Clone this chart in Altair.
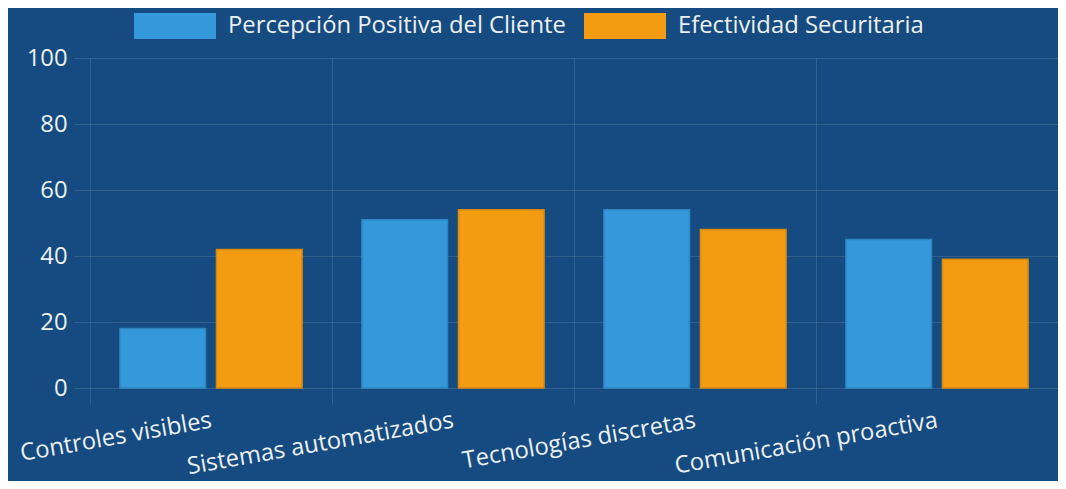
import altair as alt
import pandas as pd

categories = [
    "Controles visibles",
    "Sistemas automatizados",
    "Tecnologías discretas",
    "Comunicación proactiva",
]
series_names = ["Percepción Positiva del Cliente", "Efectividad Securitaria"]
percepcion = [18, 51, 54, 45]
efectividad = [42, 54, 48, 39]
y_ticks = [0, 20, 40, 60, 80, 100]

rows = []
for i, c in enumerate(categories):
    rows.append({"categoria": c, "serie": series_names[0], "valor": percepcion[i]})
    rows.append({"categoria": c, "serie": series_names[1], "valor": efectividad[i]})
df = pd.DataFrame(rows)

BG = "#154b80"
TEXT = "#ecf0f1"
GRID = "rgba(255,255,255,0.12)"
FS = 23.8

chart = (
    alt.Chart(df)
    .mark_bar(strokeWidth=1.5)
    .encode(
        x=alt.X(
            "categoria:N",
            sort=categories,
            title=None,
            scale=alt.Scale(paddingInner=0, paddingOuter=0),
            axis=alt.Axis(
                tickBand="extent",
                labelAngle=-10,
                labelAlign="right",
                labelBaseline="middle",
                labelPadding=16,
                tickSize=16,
                labelLimit=500,
            ),
        ),
        xOffset=alt.XOffset(
            "serie:N",
            sort=series_names,
            scale=alt.Scale(paddingInner=0.113, paddingOuter=0.31),
        ),
        y=alt.Y(
            "valor:Q",
            title=None,
            scale=alt.Scale(domain=[0, 100], nice=False),
            axis=alt.Axis(values=y_ticks, tickSize=16, labelPadding=7),
        ),
        color=alt.Color(
            "serie:N",
            sort=series_names,
            scale=alt.Scale(domain=series_names, range=["#3498db", "#f39c12"]),
            legend=alt.Legend(
                title=None,
                orient="none",
                direction="horizontal",
                columns=2,
                legendX=44,
                legendY=-73,
                symbolType="M-1,-0.317H1V0.317H-1Z",
                symbolSize=6724,
                symbolStrokeWidth=0,
                symbolOpacity=1,
                labelFontSize=FS,
                labelColor=TEXT,
                labelFont="Open Sans",
                labelOffset=12,
                columnPadding=18,
                labelLimit=600,
                padding=0,
            ),
        ),
        stroke=alt.Stroke(
            "serie:N",
            sort=series_names,
            scale=alt.Scale(domain=series_names, range=["#2e86c1", "#d68910"]),
            legend=None,
        ),
    )
    .properties(
        width=968,
        height=330,
        autosize=alt.AutoSizeParams(type="none"),
        padding={"left": 82, "top": 50, "right": 0, "bottom": 93},
        background=BG,
    )
    .configure(font="Open Sans")
    .configure_view(stroke=None)
    .configure_axis(
        domain=False,
        grid=True,
        gridColor=GRID,
        gridWidth=1,
        tickColor=GRID,
        tickWidth=1,
        labelFont="Open Sans",
        labelFontSize=FS,
        labelColor=TEXT,
    )
)

chart.save("out.html", embed_options={"renderer": "svg", "actions": False})
